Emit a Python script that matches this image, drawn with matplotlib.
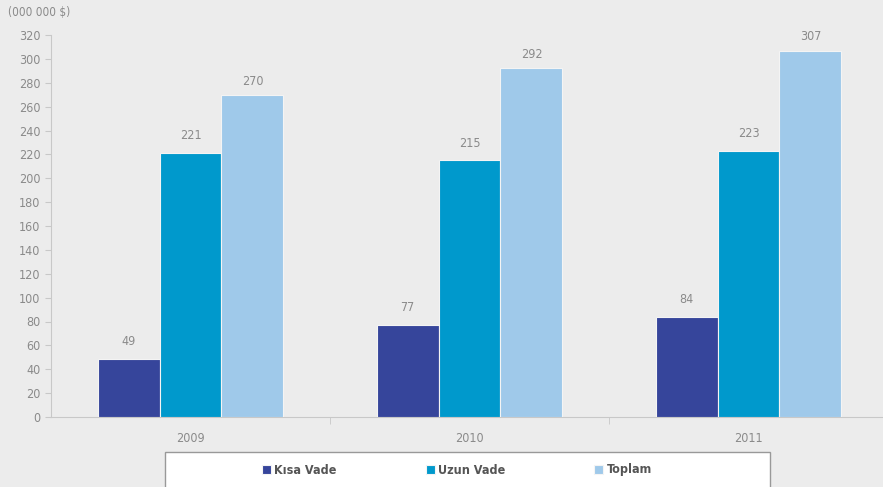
import matplotlib
matplotlib.use("Agg")
import matplotlib.pyplot as plt
from matplotlib.patches import Rectangle
import numpy as np

years = ["2009", "2010", "2011"]
kisa = [49, 77, 84]
uzun = [221, 215, 223]
toplam = [270, 292, 307]
series_names = ["Kısa Vade", "Uzun Vade", "Toplam"]
colors = ["#36459b", "#0099cc", "#9fc9ea"]
yticks = list(range(0, 321, 20))

W, H = 883, 487
fig = plt.figure(figsize=(W/100, H/100), dpi=100)
fig.patch.set_facecolor("#ececec")
plt.rcParams["font.family"] = ["DejaVu Sans"]
plt.rcParams["font.stretch"] = "condensed"

left, right = 51, 888
bottom, top = 417, 35
ax = fig.add_axes([left/W, 1-bottom/H, (right-left)/W, (bottom-top)/H])
ax.set_facecolor("#ececec")
ax.set_xlim(-0.5, 2.5)
ax.set_ylim(0, 320)

x = np.arange(len(years))
bw = 0.222
offsets = [9, 9, 6]
handles = []
for i, (vals, c) in enumerate(zip([kisa, uzun, toplam], colors)):
    b = ax.bar(x + (i-1)*bw, vals, bw, color=c, edgecolor="#f4f4f4", linewidth=0.8,
               label=series_names[i], zorder=3)
    handles.append(b)
    for xi, v in zip(x + (i-1)*bw, vals):
        ax.text(xi, v + offsets[i], str(v), ha="center", va="bottom", fontsize=9, color="#8a8a8a")

for s in ["top", "right"]:
    ax.spines[s].set_visible(False)
ax.spines["left"].set_color("#c8c8c8")
ax.spines["bottom"].set_color("#c8c8c8")
ax.set_yticks(yticks)
ax.tick_params(axis="y", colors="#8a8a8a", labelsize=9, length=4, color="#c8c8c8")
ax.set_xticks(x)
ax.set_xticklabels(years)
ax.tick_params(axis="x", colors="#8a8a8a", labelsize=9, length=0, pad=11)
ax.set_xticks([0.5, 1.5], minor=True)
ax.tick_params(axis="x", which="minor", length=5, color="#c8c8c8")

fig.text(8/W, 1-13/H, "(000 000 $)", fontsize=8.5, color="#8a8a8a", va="center", ha="left")

fig.patches.append(Rectangle((165/W, -0.01), (770-165)/W, (1-452/H)+0.01,
                             transform=fig.transFigure, facecolor="white",
                             edgecolor="#999999", linewidth=1.0, zorder=0))

marker_x = [262, 426, 594]
for h, name, mx in zip(handles, series_names, marker_x):
    leg = fig.legend([h], [name], loc="center left", bbox_to_anchor=(mx/W, 1-470/H),
                     frameon=False, fontsize=9, handlelength=0.7, handleheight=0.7,
                     handletextpad=0.3, borderaxespad=0, borderpad=0)
    for t in leg.get_texts():
        t.set_color("#555555")
        t.set_fontweight("bold")

fig.savefig("out.png", dpi=100, facecolor=fig.get_facecolor())
